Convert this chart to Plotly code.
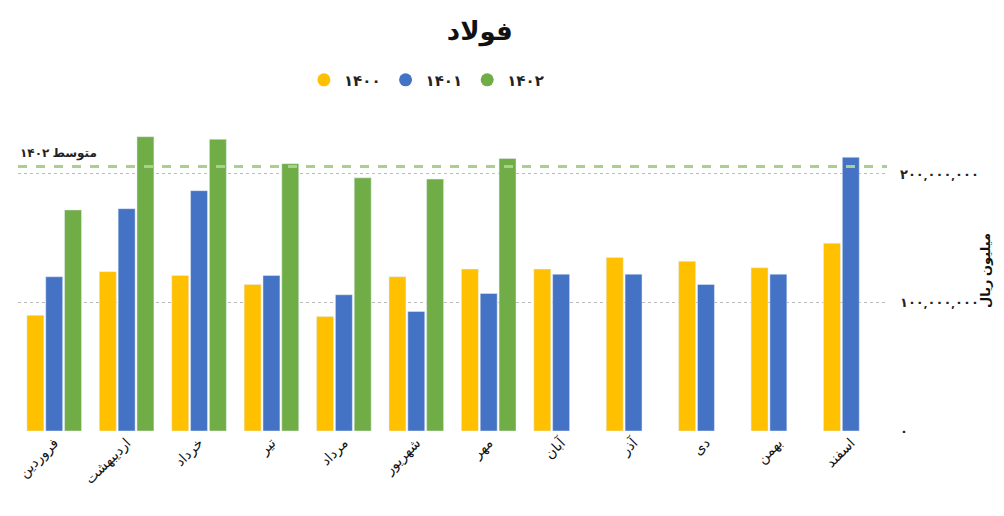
import plotly.graph_objects as go

months = ["فروردین","اردیبهشت","خرداد","تیر","مرداد","شهریور","مهر","آبان","آذر","دی","بهمن","اسفند"]
v1400 = [90e6,124e6,121e6,114e6,89e6,120e6,126e6,126e6,135e6,132e6,127e6,146e6]
v1401 = [120e6,173e6,187e6,121e6,106e6,93e6,107e6,122e6,122e6,114e6,122e6,213e6]
v1402 = [172e6,229e6,227e6,208e6,197e6,196e6,212e6,None,None,None,None,None]
tick_vals = [0,100e6,200e6]
tick_text = ["۰","۱۰۰,۰۰۰,۰۰۰","۲۰۰,۰۰۰,۰۰۰"]
names = ["۱۴۰۰","۱۴۰۱","۱۴۰۲"]
colors = ["#FFC000","#4472C4","#70AD47"]

vals = [v for v in v1402 if v is not None]
avg = sum(vals)/len(vals)

fig = go.Figure()
for n, v, c in zip(names, [v1400,v1401,v1402], colors):
    fig.add_bar(x=months, y=v, name=n, marker_color=c, showlegend=False)
for n, c in zip(names, colors):
    fig.add_scatter(x=[None], y=[None], mode="markers", name="<b>"+n+"</b>",
                    marker=dict(color=c, size=13, symbol="circle"))
fig.add_shape(type="line", xref="paper", x0=0, x1=1, y0=avg, y1=avg,
              line=dict(color="#A9D18E", width=3, dash="dash"))
fig.add_annotation(xref="paper", x=0, y=avg, text="<b>متوسط ۱۴۰۲</b>", showarrow=False,
                   xanchor="left", yanchor="bottom", yshift=3,
                   font=dict(size=12, color="#222"))
fig.add_annotation(xref="paper", yref="paper", x=1, y=0.5, xshift=98,
                   text="<b>میلیون ریال</b>", textangle=-90, showarrow=False,
                   xanchor="center", yanchor="middle", font=dict(size=13, color="#111"))
fig.update_layout(
    width=1004, height=516, paper_bgcolor="white", plot_bgcolor="white",
    title=dict(text="<b>فولاد</b>", x=0.47, xanchor="center", y=0.955, yanchor="middle",
               font=dict(size=26, color="#111")),
    font=dict(family="Noto Sans, DejaVu Sans", size=13, color="#222"),
    margin=dict(l=10, r=125, t=103, b=93),
    barmode="group", bargap=0.22, bargroupgap=0.1,
    legend=dict(orientation="h", x=0.47, xanchor="center", y=1.045, yanchor="bottom",
                font=dict(size=15), itemwidth=30, traceorder="normal"),
)
fig.update_xaxes(tickangle=-45, showgrid=False, tickfont=dict(size=14, color="#111"),
                 automargin=False)
fig.update_yaxes(side="right", tickvals=tick_vals, ticktext=["<b>"+t+"</b>" for t in tick_text],
                 range=[0,249e6], automargin=False,
                 showgrid=True, gridcolor="#bbb", griddash="dot", zeroline=False,
                 tickfont=dict(size=13, color="#222"),
                 ticklabelstandoff=12)
fig.write_html("out.html")
